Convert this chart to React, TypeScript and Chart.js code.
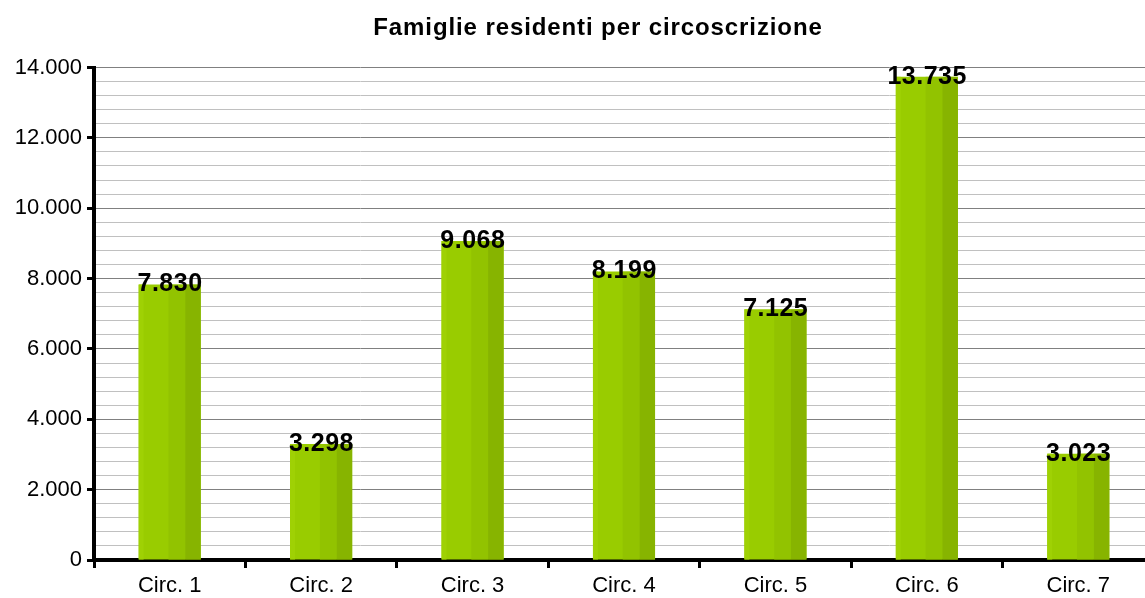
import React, { useEffect, useRef } from "react";
import { Chart, registerables } from "chart.js";

Chart.register(...registerables);

const categories = ["Circ. 1", "Circ. 2", "Circ. 3", "Circ. 4", "Circ. 5", "Circ. 6", "Circ. 7"];
const famiglie = [7830, 3298, 9068, 8199, 7125, 13735, 3023];
const yMax = 14000;
const yMinorStep = 400;
const yMajorStep = 2000;
const titleText = "Famiglie residenti per circoscrizione";

const FONT = "'Liberation Sans', Arial, sans-serif";

function fmt(v: number): string {
  return String(Math.round(v)).replace(/\B(?=(\d{3})+(?!\d))/g, ".");
}

const barStripes = {
  id: "barStripes",
  afterDatasetsDraw(chart: any) {
    const ctx = chart.ctx;
    const meta = chart.getDatasetMeta(0);
    ctx.save();
    meta.data.forEach((el: any) => {
      const w = el.width;
      const left = el.x - w / 2;
      const top = Math.min(el.y, el.base);
      const h = Math.abs(el.base - el.y);
      ctx.fillStyle = "#9fd104";
      ctx.fillRect(left, top, w * 0.08, h);
      ctx.fillStyle = "#92c300";
      ctx.fillRect(left + w * 0.48, top, w * 0.27, h);
      ctx.fillStyle = "#87b400";
      ctx.fillRect(left + w * 0.75, top, w * 0.25, h);
    });
    ctx.fillStyle = "#000";
    ctx.font = `bold 25px ${FONT}`;
    (ctx as any).letterSpacing = "0.5px";
    ctx.textAlign = "center";
    ctx.textBaseline = "middle";
    meta.data.forEach((el: any, i: number) => {
      ctx.fillText(fmt(famiglie[i]), el.x + 0.3, el.y);
    });
    ctx.restore();
  },
  afterDraw(chart: any) {
    const ctx = chart.ctx;
    ctx.save();
    ctx.fillStyle = "#000";
    ctx.font = `bold 24px ${FONT}`;
    (ctx as any).letterSpacing = "0.9px";
    ctx.textAlign = "center";
    ctx.textBaseline = "alphabetic";
    ctx.fillText(titleText, 598, 35);
    ctx.restore();
  },
};

export default function App() {
  const ref = useRef<HTMLCanvasElement | null>(null);
  useEffect(() => {
    if (!ref.current) return;
    const chart = new Chart(ref.current, {
      type: "bar",
      data: {
        labels: categories,
        datasets: [
          {
            data: famiglie,
            backgroundColor: "#99cc00",
            borderWidth: 0,
            barPercentage: 0.41,
            categoryPercentage: 1,
          },
        ],
      },
      options: {
        animation: false,
        responsive: true,
        maintainAspectRatio: false,
        layout: { padding: { left: 0, right: 0, top: 67.5, bottom: 0 } },
        plugins: {
          legend: { display: false },
          tooltip: { enabled: false },
          title: { display: false },
        },
        scales: {
          x: {
            offset: true,
            grid: {
              offset: true,
              drawOnChartArea: false,
              color: "#000",
              tickColor: "#000",
              tickLength: 8,
              tickWidth: 3,
            },
            border: { display: true, color: "#000", width: 4 },
            ticks: {
              color: "#000",
              font: { family: FONT, size: 22 },
              padding: 5,
              maxRotation: 0,
            },
            afterFit: (s: any) => {
              s.height = 38;
            },
          },
          y: {
            min: 0,
            max: yMax,
            grid: {
              color: (c: any) => (c.tick && c.tick.value % yMajorStep === 0 ? "#808080" : "#c0c0c0"),
              tickColor: (c: any) => (c.tick && c.tick.value % yMajorStep === 0 ? "#000" : "rgba(0,0,0,0)"),
              lineWidth: 1,
              tickWidth: 3,
              tickLength: 7,
            },
            border: { display: true, color: "#000", width: 4 },
            ticks: {
              stepSize: yMinorStep,
              autoSkip: false,
              color: "#000",
              font: { family: FONT, size: 22 },
              padding: 5,
              callback: (v: any) => (Number(v) % yMajorStep === 0 ? fmt(Number(v)) : ""),
            },
            afterFit: (s: any) => {
              s.width = 94;
            },
          },
        },
      },
      plugins: [barStripes],
    });
    return () => chart.destroy();
  }, []);
  return (
    <div style={{ position: "fixed", left: 0, top: 0, width: 1145, height: 598, overflow: "hidden", background: "#fff" }}>
      <div style={{ position: "relative", width: 1154, height: 598 }}>
        <canvas ref={ref} />
      </div>
    </div>
  );
}
